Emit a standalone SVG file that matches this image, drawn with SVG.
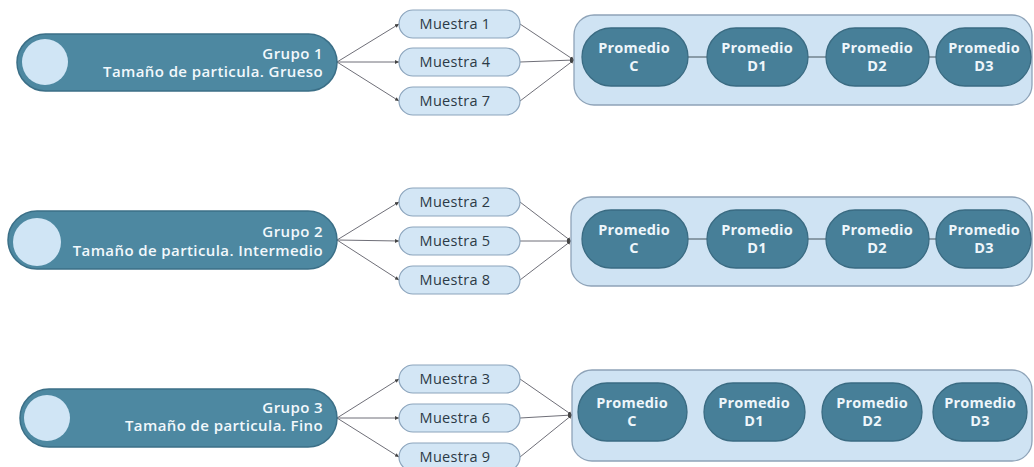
<svg xmlns="http://www.w3.org/2000/svg" width="1034" height="467" viewBox="0 0 1034 467">
<style>
.grp{fill:#4d88a1;stroke:#3b6f87;stroke-width:1.5}
.dot{fill:#d0e5f5}
.gt{font-family:"Open Sans","Liberation Sans",sans-serif;font-size:15px;letter-spacing:0.4px;font-weight:600;fill:#f2f8fc;text-anchor:end}
.mu{fill:#d3e6f5;stroke:#8ba4bc;stroke-width:1.2}
.mt{font-family:"Open Sans","Liberation Sans",sans-serif;font-size:14.5px;letter-spacing:0.3px;fill:#2b3a46;text-anchor:middle}
.box{fill:#cfe3f3;stroke:#8ea3b8;stroke-width:1.3}
.pr{fill:#477f98;stroke:#3a6b82;stroke-width:1.3}
.pt{font-family:"Open Sans","Liberation Sans",sans-serif;font-size:14.5px;letter-spacing:0.2px;font-weight:700;fill:#eef6fb;text-anchor:middle}
.ln{stroke:#6f6f78;stroke-width:1;fill:none}
.ln2{stroke:#5a6b75;stroke-width:1.2;fill:none}
</style>
<defs>
<marker id="ah" markerWidth="5" markerHeight="5" refX="4" refY="2.5" orient="auto" markerUnits="userSpaceOnUse">
<path d="M0,0.5 L4,2.5 L0,4.5 z" fill="#444"/>
</marker>
</defs>

<g id="connectors">
<line class="ln" x1="337" y1="62" x2="399" y2="24" marker-end="url(#ah)"/>
<line class="ln" x1="337" y1="62" x2="399" y2="62" marker-end="url(#ah)"/>
<line class="ln" x1="337" y1="62" x2="399" y2="101" marker-end="url(#ah)"/>
<line class="ln" x1="520" y1="24" x2="574" y2="60" marker-end="url(#ah)"/>
<line class="ln" x1="520" y1="62" x2="574" y2="60" marker-end="url(#ah)"/>
<line class="ln" x1="520" y1="101" x2="574" y2="60" marker-end="url(#ah)"/>
<line class="ln" x1="337" y1="240" x2="399" y2="202" marker-end="url(#ah)"/>
<line class="ln" x1="337" y1="240" x2="399" y2="241" marker-end="url(#ah)"/>
<line class="ln" x1="337" y1="240" x2="399" y2="280" marker-end="url(#ah)"/>
<line class="ln" x1="520" y1="202" x2="571" y2="241" marker-end="url(#ah)"/>
<line class="ln" x1="520" y1="241" x2="571" y2="241" marker-end="url(#ah)"/>
<line class="ln" x1="520" y1="280" x2="571" y2="241" marker-end="url(#ah)"/>
<line class="ln" x1="337" y1="418" x2="399" y2="379" marker-end="url(#ah)"/>
<line class="ln" x1="337" y1="418" x2="399" y2="418" marker-end="url(#ah)"/>
<line class="ln" x1="337" y1="418" x2="399" y2="457" marker-end="url(#ah)"/>
<line class="ln" x1="520" y1="379" x2="572" y2="415" marker-end="url(#ah)"/>
<line class="ln" x1="520" y1="418" x2="572" y2="415" marker-end="url(#ah)"/>
<line class="ln" x1="520" y1="457" x2="572" y2="415" marker-end="url(#ah)"/>
</g>

<!-- Row 1 -->
<g id="grupo1">
<rect class="grp" x="17" y="34" width="320" height="57" rx="28.5"/>
<circle class="dot" cx="45" cy="62" r="23"/>
<text class="gt" x="323" y="59">Grupo 1</text>
<text class="gt" x="323" y="77">Tamaño de particula. Grueso</text>
</g>
<g id="muestra1"><rect class="mu" x="399" y="10" width="121" height="28" rx="14"/><text class="mt" x="455" y="29">Muestra 1</text></g>
<g id="muestra4"><rect class="mu" x="399" y="48" width="121" height="28" rx="14"/><text class="mt" x="455" y="67">Muestra 4</text></g>
<g id="muestra7"><rect class="mu" x="399" y="87" width="121" height="28" rx="14"/><text class="mt" x="455" y="106">Muestra 7</text></g>
<g id="caja1">
<rect class="box" x="574" y="15" width="458" height="90" rx="20"/>
<g class="links"><line class="ln2" x1="688" y1="57" x2="707" y2="57"/><line class="ln2" x1="808" y1="57" x2="826" y2="57"/><line class="ln2" x1="929" y1="57" x2="936" y2="57"/></g>
<g id="p1c"><rect class="pr" x="582" y="28" width="106" height="58" rx="29"/><text class="pt" x="634" y="53">Promedio</text><text class="pt" x="634" y="71">C</text></g>
<g id="p1d1"><rect class="pr" x="707" y="28" width="101" height="58" rx="29"/><text class="pt" x="757" y="53">Promedio</text><text class="pt" x="757" y="71">D1</text></g>
<g id="p1d2"><rect class="pr" x="826" y="28" width="103" height="58" rx="29"/><text class="pt" x="877" y="53">Promedio</text><text class="pt" x="877" y="71">D2</text></g>
<g id="p1d3"><rect class="pr" x="936" y="28" width="95" height="58" rx="29"/><text class="pt" x="984" y="53">Promedio</text><text class="pt" x="984" y="71">D3</text></g>
</g>

<!-- Row 2 -->
<g id="grupo2">
<rect class="grp" x="8" y="211" width="329" height="58" rx="29"/>
<circle class="dot" cx="37" cy="242" r="24"/>
<text class="gt" x="323" y="237">Grupo 2</text>
<text class="gt" x="323" y="256">Tamaño de particula. Intermedio</text>
</g>
<g id="muestra2"><rect class="mu" x="399" y="188" width="121" height="28" rx="14"/><text class="mt" x="455" y="207">Muestra 2</text></g>
<g id="muestra5"><rect class="mu" x="399" y="227" width="121" height="28" rx="14"/><text class="mt" x="455" y="246">Muestra 5</text></g>
<g id="muestra8"><rect class="mu" x="399" y="266" width="121" height="28" rx="14"/><text class="mt" x="455" y="285">Muestra 8</text></g>
<g id="caja2">
<rect class="box" x="571" y="197" width="461" height="89" rx="20"/>
<g class="links"><line class="ln2" x1="688" y1="239" x2="707" y2="239"/><line class="ln2" x1="808" y1="239" x2="826" y2="239"/><line class="ln2" x1="929" y1="239" x2="936" y2="239"/></g>
<g id="p2c"><rect class="pr" x="582" y="210" width="106" height="58" rx="29"/><text class="pt" x="634" y="235">Promedio</text><text class="pt" x="634" y="253">C</text></g>
<g id="p2d1"><rect class="pr" x="707" y="210" width="101" height="58" rx="29"/><text class="pt" x="757" y="235">Promedio</text><text class="pt" x="757" y="253">D1</text></g>
<g id="p2d2"><rect class="pr" x="826" y="210" width="103" height="58" rx="29"/><text class="pt" x="877" y="235">Promedio</text><text class="pt" x="877" y="253">D2</text></g>
<g id="p2d3"><rect class="pr" x="936" y="210" width="95" height="58" rx="29"/><text class="pt" x="984" y="235">Promedio</text><text class="pt" x="984" y="253">D3</text></g>
</g>

<!-- Row 3 -->
<g id="grupo3">
<rect class="grp" x="20" y="389" width="317" height="58" rx="29"/>
<circle class="dot" cx="47" cy="418" r="23"/>
<text class="gt" x="323" y="413">Grupo 3</text>
<text class="gt" x="323" y="431">Tamaño de particula. Fino</text>
</g>
<g id="muestra3"><rect class="mu" x="399" y="365" width="121" height="28" rx="14"/><text class="mt" x="455" y="384">Muestra 3</text></g>
<g id="muestra6"><rect class="mu" x="399" y="404" width="121" height="28" rx="14"/><text class="mt" x="455" y="423">Muestra 6</text></g>
<g id="muestra9"><rect class="mu" x="399" y="443" width="121" height="28" rx="14"/><text class="mt" x="455" y="462">Muestra 9</text></g>
<g id="caja3">
<rect class="box" x="572" y="370" width="460" height="91" rx="20"/>
<g id="p3c"><rect class="pr" x="578" y="383" width="109" height="58" rx="29"/><text class="pt" x="632" y="408">Promedio</text><text class="pt" x="632" y="426">C</text></g>
<g id="p3d1"><rect class="pr" x="704" y="383" width="101" height="58" rx="29"/><text class="pt" x="754" y="408">Promedio</text><text class="pt" x="754" y="426">D1</text></g>
<g id="p3d2"><rect class="pr" x="822" y="383" width="100" height="58" rx="29"/><text class="pt" x="872" y="408">Promedio</text><text class="pt" x="872" y="426">D2</text></g>
<g id="p3d3"><rect class="pr" x="933" y="383" width="94" height="58" rx="29"/><text class="pt" x="980" y="408">Promedio</text><text class="pt" x="980" y="426">D3</text></g>
</g>
</svg>
